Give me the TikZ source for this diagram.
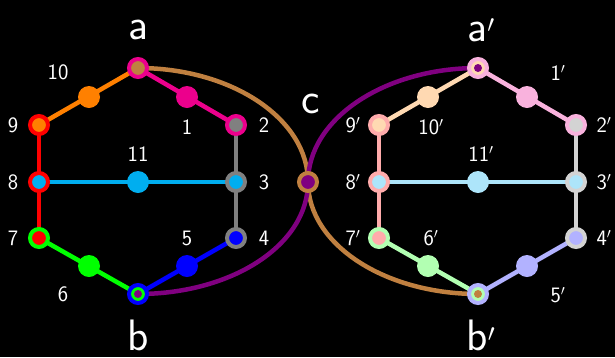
\documentclass[tikz,border=0pt]{standalone}
\definecolor{mg}{RGB}{236,0,140}
\definecolor{orng}{RGB}{255,128,0}
\definecolor{rd}{RGB}{255,0,0}
\definecolor{cy}{RGB}{0,174,239}
\definecolor{gy}{RGB}{128,128,128}
\definecolor{bl}{RGB}{0,0,255}
\definecolor{gr}{RGB}{0,255,0}
\definecolor{pu}{RGB}{128,0,128}
\definecolor{pe}{RGB}{192,128,64}
\colorlet{lmg}{mg!30!white}
\colorlet{lorng}{orng!30!white}
\colorlet{lrd}{rd!33!white}
\colorlet{lcy}{cy!32!white}
\colorlet{lgy}{gy!35!white}
\colorlet{lbl}{bl!30!white}
\colorlet{lgr}{gr!30!white}
\tikzset{
  edge/.style={line width=4.5pt},
  curve/.style={line width=4.5pt},
  ring/.style={circle, inner sep=0pt, minimum size=18pt, line width=4pt},
  mid/.style={circle, inner sep=0pt, minimum size=22pt},
  core/.style={circle, inner sep=0pt, minimum size=8pt},
  big/.style={text=white, font=\sffamily\fontsize{44}{48}\selectfont, inner sep=0pt},
  num/.style={text=white, font=\sffamily\fontsize{22}{24}\selectfont, inner sep=0pt},
}
\begin{document}
\begin{tikzpicture}[x=1pt,y=-1pt]
\fill[black] (0,0) rectangle (615,357);
\useasboundingbox (0,0) rectangle (615,357);
% left vertices
\coordinate (a) at (138,68);
\coordinate (m10) at (89,97);
\coordinate (v9) at (39,125);
\coordinate (m1) at (187,97);
\coordinate (v2) at (236,125);
\coordinate (v8) at (39,182);
\coordinate (m11) at (138,182);
\coordinate (v3) at (236,182);
\coordinate (v7) at (39,238);
\coordinate (m6) at (89,266);
\coordinate (b) at (138,294);
\coordinate (m5) at (187,266);
\coordinate (v4) at (236,238);
\coordinate (c) at (308,182);
% right vertices
\coordinate (ap) at (478,68);
\coordinate (m10p) at (428,97);
\coordinate (v9p) at (379,125);
\coordinate (m1p) at (527,97);
\coordinate (v2p) at (576,125);
\coordinate (v8p) at (379,182);
\coordinate (m11p) at (478,182);
\coordinate (v3p) at (576,182);
\coordinate (v7p) at (379,238);
\coordinate (m6p) at (428,266);
\coordinate (bp) at (478,294);
\coordinate (m5p) at (527,266);
\coordinate (v4p) at (576,238);
% control points of the curves
\coordinate (k1) at (231.9,68);
\coordinate (k2) at (308,119);
\coordinate (k3) at (308,244);
\coordinate (k4) at (384.1,294);
\coordinate (k5) at (231.9,294);
\coordinate (k6) at (308,245);
\coordinate (k7) at (308,119);
\coordinate (k8) at (384.1,68);
% left edges
\draw[edge, orng] (a) -- (v9);
\draw[edge, mg] (a) -- (v2);
\draw[edge, rd] (v9) -- (v7);
\draw[edge, gy] (v2) -- (v4);
\draw[edge, cy] (v8) -- (v3);
\draw[edge, gr] (v7) -- (b);
\draw[edge, bl] (b) -- (v4);
% right edges
\draw[edge, lorng] (ap) -- (v9p);
\draw[edge, lmg] (ap) -- (v2p);
\draw[edge, lrd] (v9p) -- (v7p);
\draw[edge, lgy] (v2p) -- (v4p);
\draw[edge, lcy] (v8p) -- (v3p);
\draw[edge, lgr] (v7p) -- (bp);
\draw[edge, lbl] (bp) -- (v4p);
% curves
\draw[curve, pe] (a) .. controls (k1) and (k2) .. (c) .. controls (k3) and (k4) .. (bp);
\draw[curve, pu] (b) .. controls (k5) and (k6) .. (c) .. controls (k7) and (k8) .. (ap);
% left nodes
\node[ring, draw=mg, fill=pe] (na) at (a) {};
\node[mid, fill=orng] (n10) at (m10) {};
\node[ring, draw=rd, fill=orng] (n9) at (v9) {};
\node[mid, fill=mg] (n1) at (m1) {};
\node[ring, draw=mg, fill=gy] (n2) at (v2) {};
\node[ring, draw=rd, fill=cy] (n8) at (v8) {};
\node[mid, fill=cy] (n11) at (m11) {};
\node[ring, draw=gy, fill=cy] (n3) at (v3) {};
\node[ring, draw=gr, fill=rd] (n7) at (v7) {};
\node[mid, fill=gr] (n6) at (m6) {};
\node[ring, draw=bl, fill=gr] (nb) at (b) {};
\node[core, fill=pu] (nbc) at (b) {};
\node[mid, fill=bl] (n5) at (m5) {};
\node[ring, draw=gy, fill=bl] (n4) at (v4) {};
\node[ring, draw=pe, fill=pu] (nc) at (c) {};
% right nodes
\node[ring, draw=lmg, fill=lorng] (nap) at (ap) {};
\node[core, fill=pu] (napc) at (ap) {};
\node[mid, fill=lorng] (n10p) at (m10p) {};
\node[ring, draw=lrd, fill=lorng] (n9p) at (v9p) {};
\node[mid, fill=lmg] (n1p) at (m1p) {};
\node[ring, draw=lmg, fill=lgy] (n2p) at (v2p) {};
\node[ring, draw=lrd, fill=lcy] (n8p) at (v8p) {};
\node[mid, fill=lcy] (n11p) at (m11p) {};
\node[ring, draw=lgy, fill=lcy] (n3p) at (v3p) {};
\node[ring, draw=lgr, fill=lrd] (n7p) at (v7p) {};
\node[mid, fill=lgr] (n6p) at (m6p) {};
\node[ring, draw=lbl, fill=lgr] (nbp) at (bp) {};
\node[core, fill=pe] (nbpc) at (bp) {};
\node[mid, fill=lbl] (n5p) at (m5p) {};
\node[ring, draw=lgy, fill=lbl] (n4p) at (v4p) {};
% big labels
\node[big] (la) at (138,30) {a};
\node[big] (lb) at (138,335) {b};
\node[big] (lc) at (311,104) {c};
\node[big] (lap) at (481,30) {a$'$};
\node[big] (lbp) at (481,335) {b$'$};
% number labels
\node[num] (t10) at (58,72) {10};
\node[num] (t9) at (13,125) {9};
\node[num] (t1) at (187,127) {1};
\node[num] (t2) at (264,125) {2};
\node[num] (t11) at (138,154) {11};
\node[num] (t8) at (13,182) {8};
\node[num] (t3) at (264,182) {3};
\node[num] (t7) at (13,238) {7};
\node[num] (t4) at (264,238) {4};
\node[num] (t5) at (187,238) {5};
\node[num] (t6) at (63,294) {6};
\node[num] (t9p) at (353,125) {9$'$};
\node[num] (t10p) at (431,127) {10$'$};
\node[num] (t1p) at (558,73) {1$'$};
\node[num] (t2p) at (604,125) {2$'$};
\node[num] (t11p) at (481,154) {11$'$};
\node[num] (t8p) at (353,182) {8$'$};
\node[num] (t3p) at (604,182) {3$'$};
\node[num] (t7p) at (353,238) {7$'$};
\node[num] (t6p) at (431,238) {6$'$};
\node[num] (t4p) at (604,238) {4$'$};
\node[num] (t5p) at (558,295) {5$'$};
\end{tikzpicture}
\end{document}
